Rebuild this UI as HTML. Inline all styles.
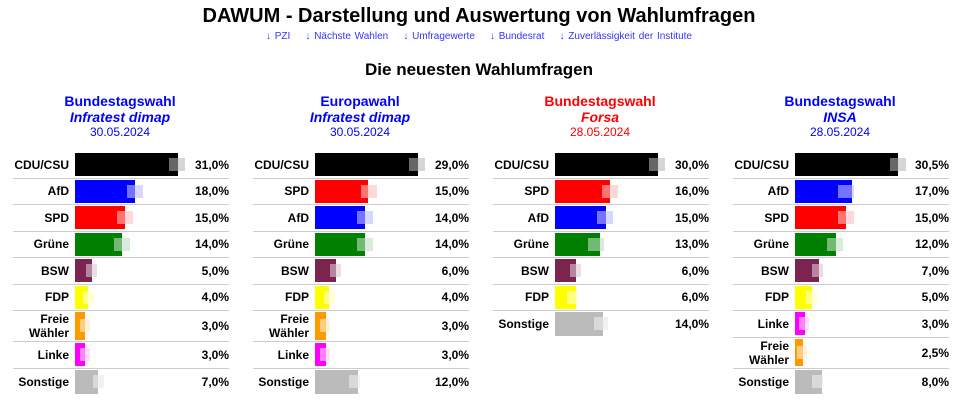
<!DOCTYPE html>
<html><head><meta charset="utf-8"><style>
*{margin:0;padding:0;box-sizing:border-box}
body{width:958px;height:404px;background:#fff;font-family:"Liberation Sans",Arial,sans-serif;color:#000;position:relative;overflow:hidden}
.t{position:absolute;left:0;width:958px;text-align:center}
.col{position:absolute;top:93px;width:240px}
.hd{text-align:center;width:240px}
.h1{font-size:14px;font-weight:bold;line-height:16px}
.h2{font-size:14px;font-weight:bold;font-style:italic;line-height:16px}
.h3{font-size:12px;line-height:14px}
.b{color:#0000ff}.r{color:#ff0000}
.tbl{position:absolute;top:59px;left:13px;width:216px}
.row{position:relative;height:26.5px;border-bottom:1px solid #ccc}
.row.last{border-bottom:none}
.row.tall{height:31px}
.lb{position:absolute;left:0;width:56px;text-align:right;font-size:12px;font-weight:bold;top:50%;transform:translateY(-50%);line-height:14px}
.bar{position:absolute;left:62px;top:1px;bottom:1.5px}
.g1{position:absolute;top:6px;height:13px;width:16px}
.pc{position:absolute;right:0;font-size:12px;font-weight:bold;top:50%;transform:translateY(-50%)}
</style></head><body>
<div class="t" style="top:4px;font-size:20px;font-weight:bold;line-height:24px">DAWUM - Darstellung und Auswertung von Wahlumfragen</div>
<div class="t" style="top:31px;font-size:10px;color:#3333ff;line-height:12px;word-spacing:1px">↓ PZI &nbsp;&nbsp; ↓ Nächste Wahlen &nbsp;&nbsp; ↓ Umfragewerte &nbsp;&nbsp; ↓ Bundesrat &nbsp;&nbsp; ↓ Zuverlässigkeit der Institute</div>
<div class="t" style="top:60px;font-size:17px;font-weight:bold;line-height:20px">Die neuesten Wahlumfragen</div>

<!-- Column 1 -->
<div class="col" style="left:0">
<div class="hd b"><div class="h1">Bundestagswahl</div><div class="h2">Infratest dimap</div><div class="h3">30.05.2024</div></div>
<div class="tbl">
<div class="row"><div class="lb">CDU/CSU</div><div class="g1" style="left:156px;background:#bbb"></div><div class="bar" style="width:103px;background:#000"></div><div class="g1" style="left:156px;background:rgba(255,255,255,.4)"></div><div class="pc">31,0%</div></div>
<div class="row"><div class="lb">AfD</div><div class="g1" style="left:114px;background:#b8b8ff"></div><div class="bar" style="width:60px;background:#00f"></div><div class="g1" style="left:114px;background:rgba(255,255,255,.45)"></div><div class="pc">18,0%</div></div>
<div class="row"><div class="lb">SPD</div><div class="g1" style="left:104px;background:#ffb8b8"></div><div class="bar" style="width:50px;background:#f00"></div><div class="g1" style="left:104px;background:rgba(255,255,255,.45)"></div><div class="pc">15,0%</div></div>
<div class="row"><div class="lb">Grüne</div><div class="g1" style="left:101px;background:#b8deb8"></div><div class="bar" style="width:47px;background:#008000"></div><div class="g1" style="left:101px;background:rgba(255,255,255,.45)"></div><div class="pc">14,0%</div></div>
<div class="row"><div class="lb">BSW</div><div class="g1" style="left:73px;width:11px;background:#dcc0cc"></div><div class="bar" style="width:17px;background:#7b2450"></div><div class="g1" style="left:73px;width:11px;background:rgba(255,255,255,.45)"></div><div class="pc">5,0%</div></div>
<div class="row"><div class="lb">FDP</div><div class="g1" style="left:70px;width:11px;background:#ffffb0"></div><div class="bar" style="width:13px;background:#ff0"></div><div class="g1" style="left:70px;width:11px;background:rgba(255,255,255,.5)"></div><div class="pc">4,0%</div></div>
<div class="row tall"><div class="lb">Freie<br>Wähler</div><div class="g1" style="left:67px;width:10px;top:8px;background:#ffe0b0"></div><div class="bar" style="width:10px;background:#f90"></div><div class="g1" style="left:67px;width:10px;top:8px;background:rgba(255,255,255,.5)"></div><div class="pc">3,0%</div></div>
<div class="row"><div class="lb">Linke</div><div class="g1" style="left:67px;width:10px;background:#ffb8ff"></div><div class="bar" style="width:10px;background:#f0f"></div><div class="g1" style="left:67px;width:10px;background:rgba(255,255,255,.5)"></div><div class="pc">3,0%</div></div>
<div class="row last"><div class="lb">Sonstige</div><div class="g1" style="left:80px;width:11px;background:#e6e6e6"></div><div class="bar" style="width:23px;background:#bbb"></div><div class="g1" style="left:80px;width:11px;background:rgba(255,255,255,.45)"></div><div class="pc">7,0%</div></div>
</div></div>

<!-- Column 2 -->
<div class="col" style="left:240px">
<div class="hd b"><div class="h1">Europawahl</div><div class="h2">Infratest dimap</div><div class="h3">30.05.2024</div></div>
<div class="tbl">
<div class="row"><div class="lb">CDU/CSU</div><div class="g1" style="left:156px;background:#bbb"></div><div class="bar" style="width:103px;background:#000"></div><div class="g1" style="left:156px;background:rgba(255,255,255,.4)"></div><div class="pc">29,0%</div></div>
<div class="row"><div class="lb">SPD</div><div class="g1" style="left:108px;background:#ffb8b8"></div><div class="bar" style="width:53px;background:#f00"></div><div class="g1" style="left:108px;background:rgba(255,255,255,.45)"></div><div class="pc">15,0%</div></div>
<div class="row"><div class="lb">AfD</div><div class="g1" style="left:104px;background:#b8b8ff"></div><div class="bar" style="width:50px;background:#00f"></div><div class="g1" style="left:104px;background:rgba(255,255,255,.45)"></div><div class="pc">14,0%</div></div>
<div class="row"><div class="lb">Grüne</div><div class="g1" style="left:104px;background:#b8deb8"></div><div class="bar" style="width:50px;background:#008000"></div><div class="g1" style="left:104px;background:rgba(255,255,255,.45)"></div><div class="pc">14,0%</div></div>
<div class="row"><div class="lb">BSW</div><div class="g1" style="left:77px;width:11px;background:#dcc0cc"></div><div class="bar" style="width:21px;background:#7b2450"></div><div class="g1" style="left:77px;width:11px;background:rgba(255,255,255,.45)"></div><div class="pc">6,0%</div></div>
<div class="row"><div class="lb">FDP</div><div class="g1" style="left:71px;width:11px;background:#ffffb0"></div><div class="bar" style="width:14px;background:#ff0"></div><div class="g1" style="left:71px;width:11px;background:rgba(255,255,255,.5)"></div><div class="pc">4,0%</div></div>
<div class="row tall"><div class="lb">Freie<br>Wähler</div><div class="g1" style="left:67px;width:10px;top:8px;background:#ffe0b0"></div><div class="bar" style="width:11px;background:#f90"></div><div class="g1" style="left:67px;width:10px;top:8px;background:rgba(255,255,255,.5)"></div><div class="pc">3,0%</div></div>
<div class="row"><div class="lb">Linke</div><div class="g1" style="left:67px;width:10px;background:#ffb8ff"></div><div class="bar" style="width:11px;background:#f0f"></div><div class="g1" style="left:67px;width:10px;background:rgba(255,255,255,.5)"></div><div class="pc">3,0%</div></div>
<div class="row last"><div class="lb">Sonstige</div><div class="g1" style="left:96px;width:11px;background:#e6e6e6"></div><div class="bar" style="width:43px;background:#bbb"></div><div class="g1" style="left:96px;width:11px;background:rgba(255,255,255,.45)"></div><div class="pc">12,0%</div></div>
</div></div>

<!-- Column 3 -->
<div class="col" style="left:480px">
<div class="hd r"><div class="h1">Bundestagswahl</div><div class="h2">Forsa</div><div class="h3">28.05.2024</div></div>
<div class="tbl">
<div class="row"><div class="lb">CDU/CSU</div><div class="g1" style="left:156px;background:#bbb"></div><div class="bar" style="width:103px;background:#000"></div><div class="g1" style="left:156px;background:rgba(255,255,255,.4)"></div><div class="pc">30,0%</div></div>
<div class="row"><div class="lb">SPD</div><div class="g1" style="left:109px;background:#ffb8b8"></div><div class="bar" style="width:55px;background:#f00"></div><div class="g1" style="left:109px;background:rgba(255,255,255,.45)"></div><div class="pc">16,0%</div></div>
<div class="row"><div class="lb">AfD</div><div class="g1" style="left:104px;background:#b8b8ff"></div><div class="bar" style="width:51px;background:#00f"></div><div class="g1" style="left:104px;background:rgba(255,255,255,.45)"></div><div class="pc">15,0%</div></div>
<div class="row"><div class="lb">Grüne</div><div class="g1" style="left:95px;background:#b8deb8"></div><div class="bar" style="width:45px;background:#008000"></div><div class="g1" style="left:95px;background:rgba(255,255,255,.45)"></div><div class="pc">13,0%</div></div>
<div class="row"><div class="lb">BSW</div><div class="g1" style="left:77px;width:11px;background:#dcc0cc"></div><div class="bar" style="width:21px;background:#7b2450"></div><div class="g1" style="left:77px;width:11px;background:rgba(255,255,255,.45)"></div><div class="pc">6,0%</div></div>
<div class="row"><div class="lb">FDP</div><div class="g1" style="left:74px;width:11px;background:#ffffb0"></div><div class="bar" style="width:21px;background:#ff0"></div><div class="g1" style="left:74px;width:11px;background:rgba(255,255,255,.5)"></div><div class="pc">6,0%</div></div>
<div class="row last"><div class="lb">Sonstige</div><div class="g1" style="left:101px;width:14px;background:#e6e6e6"></div><div class="bar" style="width:48px;background:#bbb"></div><div class="g1" style="left:101px;width:14px;background:rgba(255,255,255,.45)"></div><div class="pc">14,0%</div></div>
</div></div>

<!-- Column 4 -->
<div class="col" style="left:720px">
<div class="hd b"><div class="h1">Bundestagswahl</div><div class="h2">INSA</div><div class="h3">28.05.2024</div></div>
<div class="tbl">
<div class="row"><div class="lb">CDU/CSU</div><div class="g1" style="left:157px;background:#bbb"></div><div class="bar" style="width:103px;background:#000"></div><div class="g1" style="left:157px;background:rgba(255,255,255,.4)"></div><div class="pc">30,5%</div></div>
<div class="row"><div class="lb">AfD</div><div class="g1" style="left:105px;background:#b8b8ff"></div><div class="bar" style="width:57px;background:#00f"></div><div class="g1" style="left:105px;background:rgba(255,255,255,.45)"></div><div class="pc">17,0%</div></div>
<div class="row"><div class="lb">SPD</div><div class="g1" style="left:105px;background:#ffb8b8"></div><div class="bar" style="width:51px;background:#f00"></div><div class="g1" style="left:105px;background:rgba(255,255,255,.45)"></div><div class="pc">15,0%</div></div>
<div class="row"><div class="lb">Grüne</div><div class="g1" style="left:94px;background:#b8deb8"></div><div class="bar" style="width:41px;background:#008000"></div><div class="g1" style="left:94px;background:rgba(255,255,255,.45)"></div><div class="pc">12,0%</div></div>
<div class="row"><div class="lb">BSW</div><div class="g1" style="left:79px;width:11px;background:#dcc0cc"></div><div class="bar" style="width:24px;background:#7b2450"></div><div class="g1" style="left:79px;width:11px;background:rgba(255,255,255,.45)"></div><div class="pc">7,0%</div></div>
<div class="row"><div class="lb">FDP</div><div class="g1" style="left:73px;width:11px;background:#ffffb0"></div><div class="bar" style="width:17px;background:#ff0"></div><div class="g1" style="left:73px;width:11px;background:rgba(255,255,255,.5)"></div><div class="pc">5,0%</div></div>
<div class="row"><div class="lb">Linke</div><div class="g1" style="left:66px;width:10px;background:#ffb8ff"></div><div class="bar" style="width:10px;background:#f0f"></div><div class="g1" style="left:66px;width:10px;background:rgba(255,255,255,.5)"></div><div class="pc">3,0%</div></div>
<div class="row tall"><div class="lb">Freie<br>Wähler</div><div class="g1" style="left:64px;width:10px;top:8px;background:#ffe0b0"></div><div class="bar" style="width:8px;background:#f90"></div><div class="g1" style="left:64px;width:10px;top:8px;background:rgba(255,255,255,.5)"></div><div class="pc">2,5%</div></div>
<div class="row last"><div class="lb">Sonstige</div><div class="g1" style="left:79px;width:11px;background:#e6e6e6"></div><div class="bar" style="width:27px;background:#bbb"></div><div class="g1" style="left:79px;width:11px;background:rgba(255,255,255,.45)"></div><div class="pc">8,0%</div></div>
</div></div>
</body></html>
